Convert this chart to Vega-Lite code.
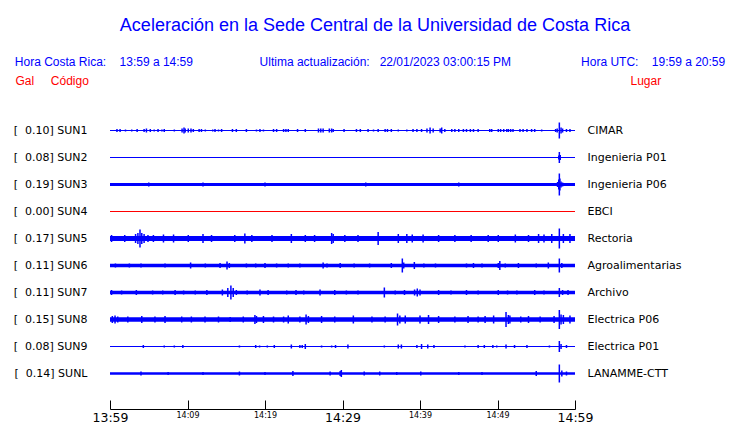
{
  "$schema": "https://vega.github.io/schema/vega-lite/v6.json",
  "autosize": "none",
  "width": 465,
  "height": 315,
  "padding": {"left": 110, "top": 94, "right": 165, "bottom": 14},
  "background": "white",
  "config": {"view": {"stroke": null}, "axis": {"grid": false}},
  "title": {
    "text": "Aceleración en la Sede Central de la Universidad de Costa Rica",
    "subtitle": "Hora Costa Rica:\u00a0\u00a0\u00a0\u00a013:59 a 14:59\u00a0\u00a0\u00a0\u00a0\u00a0\u00a0\u00a0\u00a0\u00a0\u00a0\u00a0\u00a0\u00a0\u00a0\u00a0\u00a0\u00a0\u00a0\u00a0\u00a0Ultima actualización:\u00a0\u00a0\u00a022/01/2023 03:00:15 PM\u00a0\u00a0\u00a0\u00a0\u00a0\u00a0\u00a0\u00a0\u00a0\u00a0\u00a0\u00a0\u00a0\u00a0\u00a0\u00a0\u00a0\u00a0\u00a0\u00a0\u00a0Hora UTC:\u00a0\u00a0\u00a0\u00a019:59 a 20:59\u00a0\u00a0\u00a0\u200b",
    "anchor": "middle",
    "frame": "group",
    "dx": 32.5,
    "offset": 6,
    "font": "Liberation Sans",
    "fontSize": 18,
    "fontWeight": "normal",
    "color": "#0000ff",
    "subtitleFont": "Liberation Sans",
    "subtitleFontSize": 12,
    "subtitleColor": "#0000ff",
    "subtitlePadding": 22
  },
  "datasets": {
    "estaciones": [
      {"sta": "SUN1", "gal": 0.10, "etiqueta": "[\u00a0\u00a00.10] SUN1", "lugar": "CIMAR", "ruido": 1},
      {"sta": "SUN2", "gal": 0.08, "etiqueta": "[\u00a0\u00a00.08] SUN2", "lugar": "Ingenieria P01", "ruido": 1},
      {"sta": "SUN3", "gal": 0.19, "etiqueta": "[\u00a0\u00a00.19] SUN3", "lugar": "Ingenieria P06", "ruido": 3},
      {"sta": "SUN4", "gal": 0.00, "etiqueta": "[\u00a0\u00a00.00] SUN4", "lugar": "EBCI", "ruido": 1},
      {"sta": "SUN5", "gal": 0.17, "etiqueta": "[\u00a0\u00a00.17] SUN5", "lugar": "Rectoria", "ruido": 5},
      {"sta": "SUN6", "gal": 0.11, "etiqueta": "[\u00a0\u00a00.11] SUN6", "lugar": "Agroalimentarias", "ruido": 3.5},
      {"sta": "SUN7", "gal": 0.11, "etiqueta": "[\u00a0\u00a00.11] SUN7", "lugar": "Archivo", "ruido": 3.3},
      {"sta": "SUN8", "gal": 0.15, "etiqueta": "[\u00a0\u00a00.15] SUN8", "lugar": "Electrica P06", "ruido": 4.5},
      {"sta": "SUN9", "gal": 0.08, "etiqueta": "[\u00a0\u00a00.08] SUN9", "lugar": "Electrica P01", "ruido": 1},
      {"sta": "SUNL", "gal": 0.14, "etiqueta": "[\u00a0\u00a00.14] SUNL", "lugar": "LANAMME-CTT", "ruido": 2.7}
    ],
    "senal": [
      {"sta":"SUN1","t":0.9,"amp":3},{"sta":"SUN1","t":1.3,"amp":3},{"sta":"SUN1","t":2.0,"amp":2},{"sta":"SUN1","t":2.8,"amp":2},{"sta":"SUN1","t":3.5,"amp":3},{"sta":"SUN1","t":4.4,"amp":3},{"sta":"SUN1","t":4.7,"amp":4},{"sta":"SUN1","t":5.2,"amp":3},{"sta":"SUN1","t":5.7,"amp":2},{"sta":"SUN1","t":6.2,"amp":3},{"sta":"SUN1","t":6.7,"amp":2},{"sta":"SUN1","t":7.0,"amp":3},{"sta":"SUN1","t":8.3,"amp":2},{"sta":"SUN1","t":9.3,"amp":4},{"sta":"SUN1","t":9.55,"amp":6},{"sta":"SUN1","t":9.7,"amp":4},{"sta":"SUN1","t":10.1,"amp":4},{"sta":"SUN1","t":10.45,"amp":4},{"sta":"SUN1","t":10.75,"amp":3},{"sta":"SUN1","t":11.5,"amp":3},{"sta":"SUN1","t":11.8,"amp":3},{"sta":"SUN1","t":12.3,"amp":2},{"sta":"SUN1","t":13.25,"amp":2},{"sta":"SUN1","t":13.55,"amp":3},{"sta":"SUN1","t":14.0,"amp":2},{"sta":"SUN1","t":14.4,"amp":3},{"sta":"SUN1","t":15.8,"amp":3},{"sta":"SUN1","t":16.3,"amp":3},{"sta":"SUN1","t":17.6,"amp":3},{"sta":"SUN1","t":18.9,"amp":2},{"sta":"SUN1","t":19.35,"amp":3},{"sta":"SUN1","t":19.8,"amp":2},{"sta":"SUN1","t":21.1,"amp":3},{"sta":"SUN1","t":21.5,"amp":3},{"sta":"SUN1","t":22.4,"amp":3},{"sta":"SUN1","t":22.7,"amp":3},{"sta":"SUN1","t":23.0,"amp":3},{"sta":"SUN1","t":24.2,"amp":3},{"sta":"SUN1","t":25.2,"amp":3},{"sta":"SUN1","t":26.9,"amp":4},{"sta":"SUN1","t":27.2,"amp":4},{"sta":"SUN1","t":27.5,"amp":4},{"sta":"SUN1","t":28.3,"amp":4},{"sta":"SUN1","t":28.6,"amp":4},{"sta":"SUN1","t":28.8,"amp":3},{"sta":"SUN1","t":30.2,"amp":3},{"sta":"SUN1","t":31.8,"amp":3},{"sta":"SUN1","t":32.3,"amp":3},{"sta":"SUN1","t":33.3,"amp":3},{"sta":"SUN1","t":34.0,"amp":2},{"sta":"SUN1","t":34.6,"amp":3},{"sta":"SUN1","t":35.5,"amp":3},{"sta":"SUN1","t":35.8,"amp":3},{"sta":"SUN1","t":36.3,"amp":3},{"sta":"SUN1","t":37.2,"amp":2},{"sta":"SUN1","t":38.3,"amp":2},{"sta":"SUN1","t":39.1,"amp":3},{"sta":"SUN1","t":39.6,"amp":3},{"sta":"SUN1","t":40.2,"amp":3},{"sta":"SUN1","t":40.9,"amp":4},{"sta":"SUN1","t":41.3,"amp":6},{"sta":"SUN1","t":41.7,"amp":4},{"sta":"SUN1","t":42.6,"amp":4},{"sta":"SUN1","t":42.8,"amp":6},{"sta":"SUN1","t":43.2,"amp":3},{"sta":"SUN1","t":44.1,"amp":3},{"sta":"SUN1","t":44.5,"amp":3},{"sta":"SUN1","t":45.0,"amp":3},{"sta":"SUN1","t":45.6,"amp":3},{"sta":"SUN1","t":46.0,"amp":3},{"sta":"SUN1","t":46.5,"amp":3},{"sta":"SUN1","t":46.9,"amp":3},{"sta":"SUN1","t":47.5,"amp":3},{"sta":"SUN1","t":49.0,"amp":3},{"sta":"SUN1","t":49.25,"amp":3},{"sta":"SUN1","t":50.1,"amp":3},{"sta":"SUN1","t":50.4,"amp":3},{"sta":"SUN1","t":50.8,"amp":3},{"sta":"SUN1","t":51.2,"amp":3},{"sta":"SUN1","t":51.4,"amp":3},{"sta":"SUN1","t":51.7,"amp":3},{"sta":"SUN1","t":52.0,"amp":3},{"sta":"SUN1","t":52.9,"amp":3},{"sta":"SUN1","t":53.3,"amp":3},{"sta":"SUN1","t":53.8,"amp":3},{"sta":"SUN1","t":54.4,"amp":3},{"sta":"SUN1","t":54.8,"amp":3},{"sta":"SUN1","t":55.7,"amp":2},{"sta":"SUN1","t":57.5,"amp":3},{"sta":"SUN1","t":57.7,"amp":4},{"sta":"SUN1","t":57.98,"amp":16},{"sta":"SUN1","t":58.2,"amp":6},{"sta":"SUN1","t":58.4,"amp":4},{"sta":"SUN1","t":58.9,"amp":3},{"sta":"SUN1","t":59.35,"amp":3},
      {"sta":"SUN2","t":57.9,"amp":4},{"sta":"SUN2","t":57.98,"amp":11},{"sta":"SUN2","t":58.1,"amp":5},
      {"sta":"SUN3","t":5.0,"amp":4},{"sta":"SUN3","t":12.0,"amp":4},{"sta":"SUN3","t":20.0,"amp":4},{"sta":"SUN3","t":33.0,"amp":4},{"sta":"SUN3","t":45.0,"amp":4},{"sta":"SUN3","t":57.75,"amp":5},{"sta":"SUN3","t":57.9,"amp":10},{"sta":"SUN3","t":57.98,"amp":22},{"sta":"SUN3","t":58.05,"amp":12},{"sta":"SUN3","t":58.2,"amp":6},{"sta":"SUN3","t":58.4,"amp":4},
      {"sta":"SUN4","t":0,"amp":0},
      {"sta":"SUN5","t":0.2,"amp":7},{"sta":"SUN5","t":1.9,"amp":7},{"sta":"SUN5","t":3.3,"amp":9},{"sta":"SUN5","t":3.6,"amp":11},{"sta":"SUN5","t":3.87,"amp":18},{"sta":"SUN5","t":4.1,"amp":11},{"sta":"SUN5","t":4.4,"amp":9},{"sta":"SUN5","t":4.9,"amp":7},{"sta":"SUN5","t":5.6,"amp":7},{"sta":"SUN5","t":6.9,"amp":8},{"sta":"SUN5","t":8.2,"amp":8},{"sta":"SUN5","t":10.1,"amp":7},{"sta":"SUN5","t":12.0,"amp":9},{"sta":"SUN5","t":13.1,"amp":7},{"sta":"SUN5","t":16.1,"amp":7},{"sta":"SUN5","t":17.4,"amp":10},{"sta":"SUN5","t":18.3,"amp":7},{"sta":"SUN5","t":20.9,"amp":7},{"sta":"SUN5","t":23.4,"amp":9},{"sta":"SUN5","t":25.2,"amp":7},{"sta":"SUN5","t":26.4,"amp":7},{"sta":"SUN5","t":28.6,"amp":11},{"sta":"SUN5","t":28.8,"amp":9},{"sta":"SUN5","t":30.3,"amp":7},{"sta":"SUN5","t":32.0,"amp":7},{"sta":"SUN5","t":34.6,"amp":13},{"sta":"SUN5","t":37.2,"amp":9},{"sta":"SUN5","t":38.3,"amp":9},{"sta":"SUN5","t":39.0,"amp":8},{"sta":"SUN5","t":40.4,"amp":8},{"sta":"SUN5","t":42.4,"amp":7},{"sta":"SUN5","t":44.5,"amp":7},{"sta":"SUN5","t":46.6,"amp":7},{"sta":"SUN5","t":48.8,"amp":7},{"sta":"SUN5","t":50.1,"amp":7},{"sta":"SUN5","t":52.3,"amp":8},{"sta":"SUN5","t":54.0,"amp":7},{"sta":"SUN5","t":55.3,"amp":9},{"sta":"SUN5","t":56.0,"amp":8},{"sta":"SUN5","t":57.0,"amp":9},{"sta":"SUN5","t":57.98,"amp":20},{"sta":"SUN5","t":58.5,"amp":9},{"sta":"SUN5","t":59.35,"amp":9},
      {"sta":"SUN6","t":0.7,"amp":4},{"sta":"SUN6","t":2.5,"amp":4},{"sta":"SUN6","t":4.0,"amp":4},{"sta":"SUN6","t":7.1,"amp":4},{"sta":"SUN6","t":10.4,"amp":6},{"sta":"SUN6","t":12.3,"amp":4},{"sta":"SUN6","t":14.2,"amp":5},{"sta":"SUN6","t":15.1,"amp":8},{"sta":"SUN6","t":15.4,"amp":5},{"sta":"SUN6","t":17.6,"amp":4},{"sta":"SUN6","t":18.8,"amp":4},{"sta":"SUN6","t":20.0,"amp":5},{"sta":"SUN6","t":21.5,"amp":4},{"sta":"SUN6","t":23.0,"amp":4},{"sta":"SUN6","t":24.5,"amp":4},{"sta":"SUN6","t":27.5,"amp":6},{"sta":"SUN6","t":28.0,"amp":4},{"sta":"SUN6","t":29.7,"amp":5},{"sta":"SUN6","t":31.5,"amp":4},{"sta":"SUN6","t":33.5,"amp":4},{"sta":"SUN6","t":36.3,"amp":5},{"sta":"SUN6","t":37.72,"amp":14},{"sta":"SUN6","t":37.9,"amp":6},{"sta":"SUN6","t":39.27,"amp":7},{"sta":"SUN6","t":40.5,"amp":4},{"sta":"SUN6","t":42.0,"amp":4},{"sta":"SUN6","t":46.0,"amp":4},{"sta":"SUN6","t":46.9,"amp":5},{"sta":"SUN6","t":48.0,"amp":4},{"sta":"SUN6","t":50.1,"amp":5},{"sta":"SUN6","t":50.3,"amp":9},{"sta":"SUN6","t":51.0,"amp":4},{"sta":"SUN6","t":52.7,"amp":5},{"sta":"SUN6","t":55.0,"amp":4},{"sta":"SUN6","t":56.56,"amp":6},{"sta":"SUN6","t":57.98,"amp":14},{"sta":"SUN6","t":58.3,"amp":5},
      {"sta":"SUN7","t":0.2,"amp":5},{"sta":"SUN7","t":1.5,"amp":4},{"sta":"SUN7","t":3.4,"amp":5},{"sta":"SUN7","t":5.5,"amp":4},{"sta":"SUN7","t":6.8,"amp":4},{"sta":"SUN7","t":8.4,"amp":5},{"sta":"SUN7","t":9.5,"amp":4},{"sta":"SUN7","t":11.0,"amp":4},{"sta":"SUN7","t":12.5,"amp":5},{"sta":"SUN7","t":14.5,"amp":6},{"sta":"SUN7","t":15.2,"amp":9},{"sta":"SUN7","t":15.6,"amp":14},{"sta":"SUN7","t":15.9,"amp":9},{"sta":"SUN7","t":16.3,"amp":5},{"sta":"SUN7","t":17.7,"amp":4},{"sta":"SUN7","t":19.35,"amp":6},{"sta":"SUN7","t":20.4,"amp":5},{"sta":"SUN7","t":22.8,"amp":4},{"sta":"SUN7","t":24.0,"amp":5},{"sta":"SUN7","t":25.0,"amp":4},{"sta":"SUN7","t":27.1,"amp":6},{"sta":"SUN7","t":29.0,"amp":5},{"sta":"SUN7","t":30.5,"amp":4},{"sta":"SUN7","t":32.0,"amp":4},{"sta":"SUN7","t":35.4,"amp":10},{"sta":"SUN7","t":36.8,"amp":4},{"sta":"SUN7","t":38.0,"amp":5},{"sta":"SUN7","t":39.3,"amp":6},{"sta":"SUN7","t":39.65,"amp":8},{"sta":"SUN7","t":40.0,"amp":6},{"sta":"SUN7","t":42.4,"amp":5},{"sta":"SUN7","t":44.0,"amp":4},{"sta":"SUN7","t":46.0,"amp":5},{"sta":"SUN7","t":47.5,"amp":4},{"sta":"SUN7","t":50.1,"amp":5},{"sta":"SUN7","t":51.3,"amp":4},{"sta":"SUN7","t":52.5,"amp":4},{"sta":"SUN7","t":54.8,"amp":5},{"sta":"SUN7","t":56.0,"amp":4},{"sta":"SUN7","t":57.98,"amp":9},{"sta":"SUN7","t":58.4,"amp":5},{"sta":"SUN7","t":59.1,"amp":5},
      {"sta":"SUN8","t":0.3,"amp":7},{"sta":"SUN8","t":0.65,"amp":8},{"sta":"SUN8","t":1.0,"amp":6},{"sta":"SUN8","t":2.3,"amp":6},{"sta":"SUN8","t":4.1,"amp":7},{"sta":"SUN8","t":5.8,"amp":6},{"sta":"SUN8","t":7.1,"amp":7},{"sta":"SUN8","t":9.25,"amp":6},{"sta":"SUN8","t":10.5,"amp":6},{"sta":"SUN8","t":12.26,"amp":6},{"sta":"SUN8","t":14.0,"amp":6},{"sta":"SUN8","t":15.5,"amp":5},{"sta":"SUN8","t":17.2,"amp":6},{"sta":"SUN8","t":18.7,"amp":9},{"sta":"SUN8","t":18.9,"amp":7},{"sta":"SUN8","t":19.8,"amp":7},{"sta":"SUN8","t":21.1,"amp":6},{"sta":"SUN8","t":22.4,"amp":6},{"sta":"SUN8","t":23.0,"amp":8},{"sta":"SUN8","t":24.5,"amp":6},{"sta":"SUN8","t":25.3,"amp":10},{"sta":"SUN8","t":25.6,"amp":7},{"sta":"SUN8","t":27.3,"amp":7},{"sta":"SUN8","t":29.0,"amp":6},{"sta":"SUN8","t":31.4,"amp":8},{"sta":"SUN8","t":33.8,"amp":6},{"sta":"SUN8","t":35.5,"amp":6},{"sta":"SUN8","t":37.1,"amp":12},{"sta":"SUN8","t":37.4,"amp":8},{"sta":"SUN8","t":38.1,"amp":8},{"sta":"SUN8","t":40.0,"amp":8},{"sta":"SUN8","t":41.1,"amp":9},{"sta":"SUN8","t":42.4,"amp":7},{"sta":"SUN8","t":44.5,"amp":6},{"sta":"SUN8","t":46.2,"amp":7},{"sta":"SUN8","t":47.5,"amp":6},{"sta":"SUN8","t":48.4,"amp":7},{"sta":"SUN8","t":49.5,"amp":8},{"sta":"SUN8","t":51.1,"amp":15},{"sta":"SUN8","t":51.4,"amp":9},{"sta":"SUN8","t":51.6,"amp":8},{"sta":"SUN8","t":53.0,"amp":6},{"sta":"SUN8","t":54.0,"amp":7},{"sta":"SUN8","t":55.5,"amp":6},{"sta":"SUN8","t":57.3,"amp":7},{"sta":"SUN8","t":57.98,"amp":19},{"sta":"SUN8","t":58.2,"amp":10},{"sta":"SUN8","t":58.5,"amp":9},{"sta":"SUN8","t":59.35,"amp":8},
      {"sta":"SUN9","t":4.3,"amp":3},{"sta":"SUN9","t":7.0,"amp":2},{"sta":"SUN9","t":8.3,"amp":2},{"sta":"SUN9","t":9.4,"amp":3},{"sta":"SUN9","t":16.7,"amp":2},{"sta":"SUN9","t":18.8,"amp":3},{"sta":"SUN9","t":19.3,"amp":2},{"sta":"SUN9","t":20.3,"amp":2},{"sta":"SUN9","t":21.2,"amp":3},{"sta":"SUN9","t":23.4,"amp":4},{"sta":"SUN9","t":24.5,"amp":3},{"sta":"SUN9","t":24.8,"amp":3},{"sta":"SUN9","t":25.2,"amp":5},{"sta":"SUN9","t":27.3,"amp":2},{"sta":"SUN9","t":28.6,"amp":2},{"sta":"SUN9","t":29.1,"amp":3},{"sta":"SUN9","t":30.7,"amp":4},{"sta":"SUN9","t":35.4,"amp":2},{"sta":"SUN9","t":37.2,"amp":4},{"sta":"SUN9","t":37.6,"amp":4},{"sta":"SUN9","t":39.6,"amp":3},{"sta":"SUN9","t":40.2,"amp":5},{"sta":"SUN9","t":41.0,"amp":4},{"sta":"SUN9","t":41.8,"amp":3},{"sta":"SUN9","t":45.8,"amp":2},{"sta":"SUN9","t":47.5,"amp":3},{"sta":"SUN9","t":48.3,"amp":3},{"sta":"SUN9","t":49.4,"amp":3},{"sta":"SUN9","t":49.9,"amp":2},{"sta":"SUN9","t":51.1,"amp":4},{"sta":"SUN9","t":52.2,"amp":3},{"sta":"SUN9","t":53.8,"amp":3},{"sta":"SUN9","t":56.7,"amp":2},{"sta":"SUN9","t":57.98,"amp":11},{"sta":"SUN9","t":58.2,"amp":5},{"sta":"SUN9","t":58.9,"amp":3},
      {"sta":"SUNL","t":4.0,"amp":4},{"sta":"SUNL","t":7.5,"amp":3},{"sta":"SUNL","t":12.0,"amp":3},{"sta":"SUNL","t":16.7,"amp":4},{"sta":"SUNL","t":20.0,"amp":3},{"sta":"SUNL","t":23.6,"amp":5},{"sta":"SUNL","t":28.4,"amp":4},{"sta":"SUNL","t":29.7,"amp":5},{"sta":"SUNL","t":29.85,"amp":7},{"sta":"SUNL","t":32.8,"amp":4},{"sta":"SUNL","t":34.8,"amp":4},{"sta":"SUNL","t":37.0,"amp":3},{"sta":"SUNL","t":40.1,"amp":4},{"sta":"SUNL","t":45.0,"amp":3},{"sta":"SUNL","t":48.0,"amp":3},{"sta":"SUNL","t":55.0,"amp":5},{"sta":"SUNL","t":57.98,"amp":18},{"sta":"SUNL","t":58.3,"amp":6},{"sta":"SUNL","t":58.9,"amp":4}
    ]
  },
  "layer": [
    {
      "data": {"name": "estaciones"},
      "mark": {"type": "rule", "opacity": 1},
      "encoding": {
        "x": {"datum": 0},
        "x2": {"datum": 60},
        "y": {
          "field": "etiqueta", "type": "nominal", "sort": null,
          "scale": {"type": "point", "padding": 0, "range": [36.5, 279.5]},
          "axis": {
            "orient": "left", "ticks": false, "domain": false, "labelPadding": 23,
            "labelFont": "DejaVu Sans", "labelFontSize": 11, "labelColor": "black",
            "title": "Gal\u00a0\u00a0\u00a0\u00a0\u00a0Código", "titleAngle": 0, "titleX": -95, "titleY": -14,
            "titleAlign": "left", "titleBaseline": "middle", "titleColor": "#ff0000",
            "titleFont": "Liberation Sans", "titleFontSize": 12, "titleFontWeight": "normal"
          }
        },
        "strokeWidth": {"field": "ruido", "type": "quantitative", "scale": {"domain": [0, 25], "range": [0, 25]}, "legend": null},
        "color": {"condition": {"test": "datum.gal === 0", "value": "#ff0000"}, "value": "#0000ff"}
      }
    },
    {
      "data": {"name": "estaciones"},
      "mark": {"type": "tick", "opacity": 0},
      "encoding": {
        "x": {"datum": 0},
        "y": {
          "field": "lugar", "type": "nominal", "sort": null,
          "scale": {"type": "point", "padding": 0, "range": [36.5, 279.5]},
          "axis": {
            "orient": "right", "ticks": false, "domain": false, "labelPadding": 12,
            "labelFont": "DejaVu Sans", "labelFontSize": 11, "labelColor": "black",
            "title": "Lugar", "titleAngle": 0, "titleX": 55, "titleY": -14,
            "titleAlign": "left", "titleBaseline": "middle", "titleColor": "#ff0000",
            "titleFont": "Liberation Sans", "titleFontSize": 12, "titleFontWeight": "normal"
          }
        }
      }
    },
    {
      "data": {"name": "senal"},
      "mark": {"type": "tick", "thickness": 1.5, "opacity": 1, "color": "#0000ff"},
      "encoding": {
        "x": {
          "field": "t", "type": "quantitative",
          "scale": {"domain": [0, 60], "nice": false, "zero": false},
          "axis": {
            "values": [0, 5, 10, 15, 20, 25, 30, 35, 40, 45, 50, 55, 60],
            "labelExpr": "datum.value % 10 ? '' : timeFormat(datetime(2023, 0, 22, 13, 59 + datum.value), '%H:%M')",
            "labelFontSize": {"condition": {"test": "datum.value % 30 === 0", "value": 12.5}, "value": 8},
            "labelFont": "DejaVu Sans", "labelColor": "black",
            "tickSize": -9, "tickColor": "black", "domain": true, "domainColor": "black", "domainWidth": 1,
            "labelPadding": 11, "labelBaseline": "top",
            "labelFlush": false, "labelOverlap": false, "labelBound": false,
            "title": null, "grid": false
          }
        },
        "y": {"field": "sta", "type": "nominal", "scale": {"type": "point", "padding": 0, "range": [36.5, 279.5]}, "axis": null},
        "size": {"field": "amp", "type": "quantitative", "scale": {"domain": [0, 25], "range": [0, 25]}, "legend": null}
      }
    }
  ],
  "resolve": {"scale": {"y": "independent"}}
}
